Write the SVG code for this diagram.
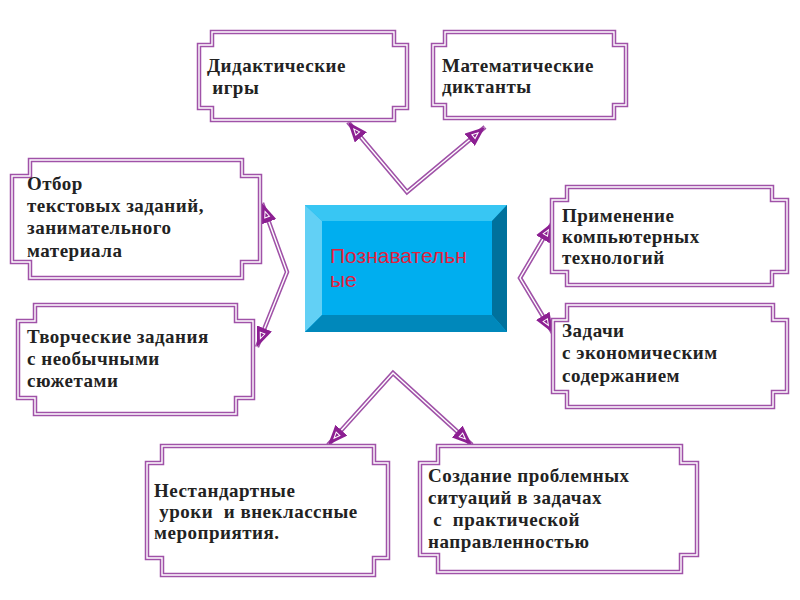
<svg xmlns="http://www.w3.org/2000/svg" width="800" height="600" viewBox="0 0 800 600">
<style>
.bo{fill:#fff;stroke:#a052a8;stroke-width:4.5;stroke-linejoin:miter}
.bi{fill:none;stroke:#fff;stroke-width:1.4}
.t{font-family:"Liberation Serif","Times New Roman",serif;font-weight:bold;font-size:19px;fill:#222;letter-spacing:0.5px}
.co{fill:none;stroke:#a052a8;stroke-width:4.5;stroke-linejoin:miter}
.ci{fill:none;stroke:#fff;stroke-width:1.4}
.cm{fill:none;stroke:none;marker-start:url(#ah-s);marker-end:url(#ah)}
.ct{font-family:"Liberation Sans",Arial,sans-serif;font-size:21px;fill:#e3203c}
</style>
<defs>
<marker id="ah" markerUnits="userSpaceOnUse" markerWidth="20" markerHeight="16" viewBox="0 0 20 16" refX="20" refY="8" orient="auto">
<path d="M0,0 L20,8 L0,16 Z" fill="#8c1f92"/>
<path d="M5,5.5 L11,8 L5,10.5 Z" fill="none" stroke="#fff" stroke-width="1"/>
</marker>
<marker id="ah-s" markerUnits="userSpaceOnUse" markerWidth="20" markerHeight="16" viewBox="0 0 20 16" refX="20" refY="8" orient="auto-start-reverse">
<path d="M0,0 L20,8 L0,16 Z" fill="#8c1f92"/>
<path d="M5,5.5 L11,8 L5,10.5 Z" fill="none" stroke="#fff" stroke-width="1"/>
</marker>
</defs>
<rect width="800" height="600" fill="#fff"/>

<g id="connectors">
<g id="c-top">
<path class="co" d="M348,122 L407,192 L485,127"/>
<path class="ci" d="M348,122 L407,192 L485,127"/>
<path class="cm" d="M348,122 L407,192 L485,127"/>
</g>
<g id="c-left">
<path class="co" d="M262,203 L287,272 L257,347"/>
<path class="ci" d="M262,203 L287,272 L257,347"/>
<path class="cm" d="M262,203 L287,272 L257,347"/>
</g>
<g id="c-right">
<path class="co" d="M553,222 L520,278 L553,333"/>
<path class="ci" d="M553,222 L520,278 L553,333"/>
<path class="cm" d="M553,222 L520,278 L553,333"/>
</g>
<g id="c-bottom">
<path class="co" d="M328,445 L393,373 L472,445"/>
<path class="ci" d="M328,445 L393,373 L472,445"/>
<path class="cm" d="M328,445 L393,373 L472,445"/>
</g>
</g>

<g id="center">
<rect x="305" y="205" width="202" height="127" fill="#00aeef"/>
<polygon points="305,205 507,205 492,221 322,221" fill="#38c6f3"/>
<polygon points="305,205 322,221 322,315 305,332" fill="#62d0f5"/>
<polygon points="507,205 507,332 492,315 492,221" fill="#00719c"/>
<polygon points="305,332 507,332 492,315 322,315" fill="#0088bb"/>
<text class="ct" x="330" y="263">Познавательн</text>
<text class="ct" x="330" y="287">ые</text>
</g>

<g id="n1">
<path class="bo" d="M212,32 H394 V45 H407 V108 H394 V120 H212 V108 H199 V45 H212 Z"/>
<path class="bi" d="M212,32 H394 V45 H407 V108 H394 V120 H212 V108 H199 V45 H212 Z"/>
<text class="t" x="207" y="72">Дидактические</text>
<text class="t" x="207" y="94" xml:space="preserve"> игры</text>
</g>

<g id="n2">
<path class="bo" d="M445,32 H614 V45 H626 V105 H614 V118 H445 V105 H433 V45 H445 Z"/>
<path class="bi" d="M445,32 H614 V45 H626 V105 H614 V118 H445 V105 H433 V45 H445 Z"/>
<text class="t" x="442" y="72">Математические</text>
<text class="t" x="442" y="93">диктанты</text>
</g>

<g id="n3">
<path class="bo" d="M30,160 H242 V176 H260 V262 H242 V278 H30 V262 H12 V176 H30 Z"/>
<path class="bi" d="M30,160 H242 V176 H260 V262 H242 V278 H30 V262 H12 V176 H30 Z"/>
<text class="t" x="27" y="190">Отбор</text>
<text class="t" x="27" y="212">текстовых заданий,</text>
<text class="t" x="27" y="234">занимательного</text>
<text class="t" x="27" y="257">материала</text>
</g>

<g id="n4">
<path class="bo" d="M35,305 H236 V321 H253 V398 H236 V414 H35 V398 H18 V321 H35 Z"/>
<path class="bi" d="M35,305 H236 V321 H253 V398 H236 V414 H35 V398 H18 V321 H35 Z"/>
<text class="t" x="27" y="343">Творческие задания</text>
<text class="t" x="27" y="365">с необычными</text>
<text class="t" x="27" y="387">сюжетами</text>
</g>

<g id="n5">
<path class="bo" d="M567,187 H772 V200 H787 V272 H772 V285 H567 V272 H552 V200 H567 Z"/>
<path class="bi" d="M567,187 H772 V200 H787 V272 H772 V285 H567 V272 H552 V200 H567 Z"/>
<text class="t" x="562" y="222">Применение</text>
<text class="t" x="562" y="243">компьютерных</text>
<text class="t" x="562" y="264">технологий</text>
</g>

<g id="n6">
<path class="bo" d="M567,305 H773 V320 H787 V392 H773 V407 H567 V392 H553 V320 H567 Z"/>
<path class="bi" d="M567,305 H773 V320 H787 V392 H773 V407 H567 V392 H553 V320 H567 Z"/>
<text class="t" x="562" y="337">Задачи</text>
<text class="t" x="562" y="359">с экономическим</text>
<text class="t" x="562" y="382">содержанием</text>
</g>

<g id="n7">
<path class="bo" d="M162,446 H374 V463 H388 V558 H374 V575 H162 V558 H147 V463 H162 Z"/>
<path class="bi" d="M162,446 H374 V463 H388 V558 H374 V575 H162 V558 H147 V463 H162 Z"/>
<text class="t" x="154" y="497">Нестандартные</text>
<text class="t" x="154" y="518" xml:space="preserve"> уроки  и внеклассные</text>
<text class="t" x="154" y="539">мероприятия.</text>
</g>

<g id="n8">
<path class="bo" d="M438,446 H681 V463 H697 V555 H681 V572 H438 V555 H420 V463 H438 Z"/>
<path class="bi" d="M438,446 H681 V463 H697 V555 H681 V572 H438 V555 H420 V463 H438 Z"/>
<text class="t" x="428" y="482">Создание проблемных</text>
<text class="t" x="428" y="504">ситуаций в задачах</text>
<text class="t" x="428" y="526" xml:space="preserve"> с  практической</text>
<text class="t" x="428" y="548">направленностью</text>
</g>
</svg>
